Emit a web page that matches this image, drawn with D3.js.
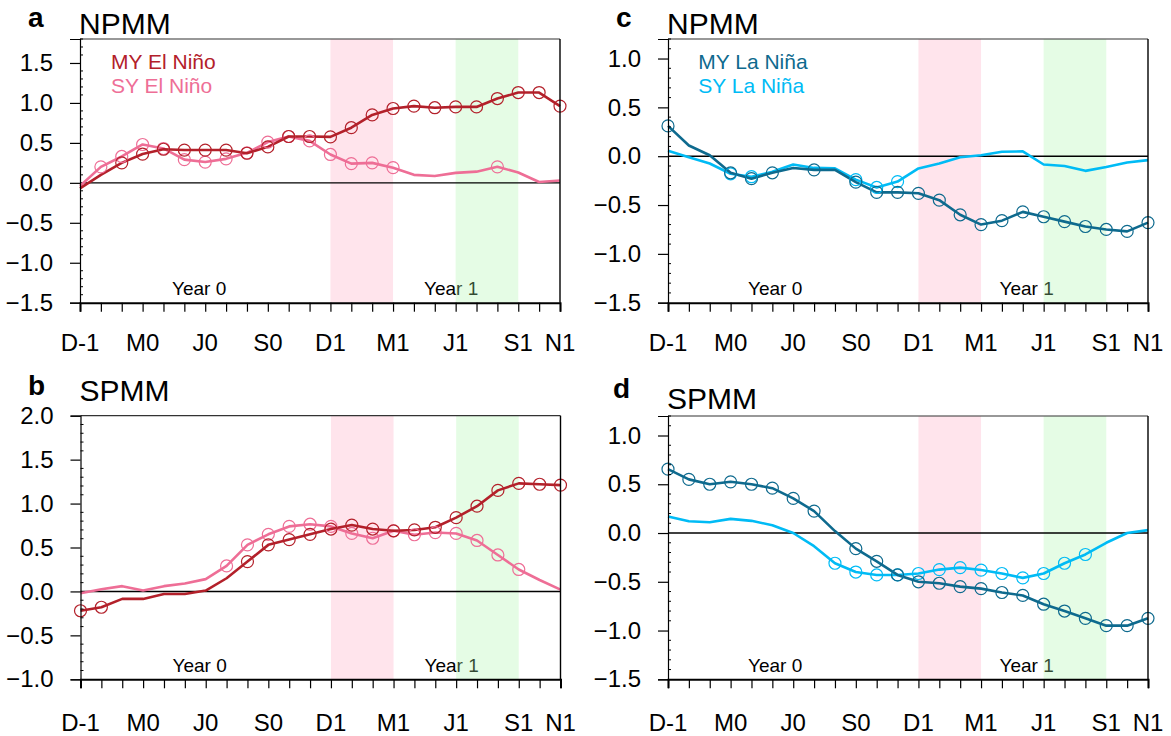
<!DOCTYPE html>
<html><head><meta charset="utf-8">
<script src="https://cdn.jsdelivr.net/npm/d3@7"></script>
<style>
body{margin:0;background:#fff}
svg{display:block}
text{font-family:"Liberation Sans",Arial,Helvetica,sans-serif}
</style>
</head><body>
<svg id="chart" width="1171" height="736"></svg>
<script>
// ---------------- DATA ----------------
const months = ["D-1","J0","F0","M0","A0","M0","J0","J0","A0","S0","O0","N0",
                "D0","J1","F1","M1","A1","M1","J1","J1","A1","S1","O1","N1"];
const tickMonths = [0,3,6,9,12,15,18,21,23];
const tickLabels = ["D-1","M0","J0","S0","D1","M1","J1","S1","N1"];

const npmmMYElNino = [-0.07,0.10,0.25,0.36,0.42,0.41,0.41,0.41,0.37,0.45,0.58,0.58,0.575,0.69,0.85,0.93,0.96,0.94,0.95,0.95,1.055,1.13,1.13,0.96];
const npmmMYElNinoSig = [2,3,4,5,6,7,8,9,10,11,12,13,14,15,16,17,18,19,20,21,22,23];
const npmmSYElNino = [-0.04,0.20,0.33,0.48,0.43,0.29,0.26,0.30,0.375,0.51,0.58,0.525,0.355,0.24,0.25,0.19,0.10,0.085,0.125,0.14,0.20,0.13,0.01,0.03];
const npmmSYElNinoSig = [1,2,3,4,5,6,7,8,9,10,11,12,13,14,15,20];

const spmmMYElNino = [-0.22,-0.18,-0.085,-0.085,-0.03,-0.03,0.01,0.15,0.34,0.53,0.59,0.65,0.71,0.755,0.71,0.69,0.70,0.73,0.84,0.97,1.15,1.23,1.22,1.21];
const spmmMYElNinoSig = [0,1,8,9,10,11,12,13,14,15,16,17,18,19,20,21,22,23];
const spmmSYElNino = [-0.02,0.025,0.06,0.01,0.06,0.09,0.14,0.29,0.53,0.65,0.74,0.765,0.74,0.66,0.605,0.69,0.645,0.67,0.66,0.58,0.415,0.25,0.13,0.02];
const spmmSYElNinoSig = [7,8,9,10,11,12,13,14,15,16,17,18,19,20,21];

const npmmMYLaNina = [0.31,0.11,0.01,-0.17,-0.23,-0.17,-0.12,-0.14,-0.14,-0.265,-0.37,-0.37,-0.38,-0.45,-0.60,-0.70,-0.66,-0.57,-0.62,-0.67,-0.72,-0.75,-0.77,-0.68];
const npmmMYLaNinaSig = [0,3,4,5,7,9,10,11,12,13,14,15,16,17,18,19,20,21,22,23];
const npmmSYLaNina = [0.055,-0.01,-0.075,-0.18,-0.21,-0.16,-0.085,-0.12,-0.125,-0.24,-0.32,-0.26,-0.125,-0.075,-0.01,0.01,0.045,0.05,-0.085,-0.10,-0.15,-0.11,-0.065,-0.04];
const npmmSYLaNinaSig = [3,4,9,10,11];

const spmmMYLaNina = [0.655,0.55,0.50,0.525,0.50,0.46,0.355,0.225,0.02,-0.16,-0.29,-0.43,-0.50,-0.515,-0.55,-0.57,-0.61,-0.64,-0.73,-0.80,-0.875,-0.95,-0.95,-0.875];
const spmmMYLaNinaSig = [0,1,2,3,4,5,6,7,9,10,11,12,13,14,15,16,17,18,19,20,21,22,23];
const spmmSYLaNina = [0.17,0.12,0.11,0.145,0.125,0.08,0.0,-0.135,-0.31,-0.40,-0.43,-0.43,-0.415,-0.375,-0.355,-0.38,-0.415,-0.46,-0.415,-0.31,-0.22,-0.10,0.0,0.03];
const spmmSYLaNinaSig = [8,9,10,11,12,13,14,15,16,17,18,19,20];

const seriesNamesElNino = ["MY El Niño","SY El Niño"];
const seriesNamesLaNina = ["MY La Niña","SY La Niña"];
const bandPink = [12,15];
const bandGreen = [18,21];

// ---------------- STYLE / LAYOUT ----------------
const C = {myEl:"#B3202A", syEl:"#EE6E96", myLa:"#0E6A8E", syLa:"#00BBF5"};
const FONT = '"Liberation Sans",Arial,Helvetica,sans-serif';

const panels = [
  {letter:"a", title:"NPMM", left:80, top:39, bottom:302.7, dom:[-1.5,1.8], ticks:[-1.5,-1,-0.5,0,0.5,1,1.5],
   titleY:34, letterX:28, letterY:27, xlabY:48, yearX:[92,344],
   series:[{v:npmmMYElNino,s:npmmMYElNinoSig,c:C.myEl},{v:npmmSYElNino,s:npmmSYElNinoSig,c:C.syEl}],
   legend:{names:seriesNamesElNino, colors:[C.myEl,C.syEl], dx:31}},
  {letter:"b", title:"SPMM", left:80.5, top:415.7, bottom:679.3, dom:[-1,2], ticks:[-1,-0.5,0,0.5,1,1.5,2],
   titleY:400.7, letterX:28, letterY:395, xlabY:51.4, yearX:[92,344],
   series:[{v:spmmMYElNino,s:spmmMYElNinoSig,c:C.myEl},{v:spmmSYElNino,s:spmmSYElNinoSig,c:C.syEl}]},
  {letter:"c", title:"NPMM", left:668, top:39, bottom:302.7, dom:[-1.5,1.2], ticks:[-1.5,-1,-0.5,0,0.5,1],
   titleY:34, letterX:616, letterY:27, xlabY:48, yearX:[80,331.5],
   series:[{v:npmmMYLaNina,s:npmmMYLaNinaSig,c:C.myLa},{v:npmmSYLaNina,s:npmmSYLaNinaSig,c:C.syLa}],
   legend:{names:seriesNamesLaNina, colors:[C.myLa,C.syLa], dx:30.3}},
  {letter:"d", title:"SPMM", left:668, top:416, bottom:679.3, dom:[-1.5,1.2], ticks:[-1.5,-1,-0.5,0,0.5,1],
   titleY:409, letterX:613, letterY:398, xlabY:51.4, yearX:[80,331.5],
   series:[{v:spmmMYLaNina,s:spmmMYLaNinaSig,c:C.myLa},{v:spmmSYLaNina,s:spmmSYLaNinaSig,c:C.syLa}]}
];

const svg = d3.select("#chart");
svg.append("rect").attr("width",1171).attr("height",736).attr("fill","#fff");

panels.forEach(p => {
  const W = 480;
  const x = d3.scaleLinear().domain([0, months.length-1]).range([p.left, p.left+W]);
  const y = d3.scaleLinear().domain(p.dom).range([p.bottom, p.top]);
  const g = svg.append("g");

  // pink band (under text)
  g.append("rect").attr("x",x(bandPink[0])).attr("y",p.top)
    .attr("width",x(bandPink[1])-x(bandPink[0])).attr("height",p.bottom-p.top)
    .attr("fill","#FFE4EC");

  // Year labels
  ["Year 0","Year 1"].forEach((t,i)=>{
    g.append("text").attr("x",p.left+p.yearX[i]).attr("y",p.bottom-7.7)
      .attr("font-size",19).attr("fill","#000").text(t);
  });

  // green band (translucent over text)
  g.append("rect").attr("x",x(bandGreen[0])).attr("y",p.top)
    .attr("width",x(bandGreen[1])-x(bandGreen[0])).attr("height",p.bottom-p.top)
    .attr("fill","rgb(170,245,170)").attr("fill-opacity",0.3);

  // zero line
  g.append("line").attr("x1",p.left).attr("x2",p.left+W).attr("y1",y(0)).attr("y2",y(0))
    .attr("stroke","#000").attr("stroke-width",1.4);

  // series
  const line = d3.line().x((d,i)=>x(i)).y(d=>y(d)).curve(d3.curveLinear);
  p.series.slice().reverse().forEach(s=>{
    g.append("path").attr("d",line(s.v)).attr("fill","none")
      .attr("stroke",s.c).attr("stroke-width",2.6).attr("stroke-linejoin","round");
  });
  p.series.slice().reverse().forEach(s=>{
    g.selectAll(null).data(s.s).enter().append("circle")
      .attr("cx",i=>x(i)).attr("cy",i=>y(s.v[i])).attr("r",6)
      .attr("fill","none").attr("stroke",s.c).attr("stroke-width",1.2);
  });

  // frame
  g.append("line").attr("x1",p.left).attr("x2",p.left+W).attr("y1",p.top).attr("y2",p.top)
    .attr("stroke","#333").attr("stroke-width",1.2);
  g.append("line").attr("x1",p.left+W).attr("x2",p.left+W).attr("y1",p.top).attr("y2",p.bottom)
    .attr("stroke","#000").attr("stroke-width",1.4);

  // y axis
  const ya = d3.axisLeft(y).tickValues(p.ticks).tickSize(10).tickPadding(17)
    .tickFormat(d3.format(".1f"));
  const yg = g.append("g").attr("transform",`translate(${p.left},0)`).call(ya);
  yg.select(".domain").attr("stroke","#000").attr("stroke-width",1.2);
  yg.selectAll(".tick line").attr("stroke","#000").attr("stroke-width",1.2);
  yg.selectAll(".tick text").attr("font-size",24).attr("font-family",FONT).attr("fill","#000");
  // minor ticks
  const minor = d3.range(Math.ceil(p.dom[0]*10), Math.floor(p.dom[1]*10)+1).map(v=>v/10)
    .filter(v=>Math.abs(v*2-Math.round(v*2))>1e-6);
  g.selectAll(null).data(minor).enter().append("line")
    .attr("x1",p.left).attr("x2",p.left+3).attr("y1",d=>y(d)).attr("y2",d=>y(d))
    .attr("stroke","#000").attr("stroke-width",1);

  // x axis
  const xa = d3.axisBottom(x).tickValues(d3.range(months.length)).tickSize(9).tickFormat("");
  const xg = g.append("g").attr("transform",`translate(0,${p.bottom})`).call(xa);
  xg.select(".domain").attr("stroke","#000").attr("stroke-width",2);
  xg.selectAll(".tick line").attr("stroke","#000").attr("stroke-width",1.2);
  g.selectAll(null).data(tickMonths).enter().append("text")
    .attr("x",d=>x(d)).attr("y",p.bottom+p.xlabY).attr("text-anchor","middle")
    .attr("font-size",24).attr("fill","#000").text((d,i)=>tickLabels[i]);

  // titles
  g.append("text").attr("x",p.left-1).attr("y",p.titleY).attr("font-size",30).attr("fill","#000").text(p.title);
  g.append("text").attr("x",p.letterX).attr("y",p.letterY).attr("font-size",28)
    .attr("font-weight","bold").attr("fill","#000").text(p.letter);

  // legend
  if (p.legend) {
    p.legend.names.forEach((n,i)=>{
      g.append("text").attr("x",p.left+p.legend.dx).attr("y",69.3+i*23.4)
        .attr("font-size",21).attr("fill",p.legend.colors[i]).text(n);
    });
  }
});
</script>
</body></html>
